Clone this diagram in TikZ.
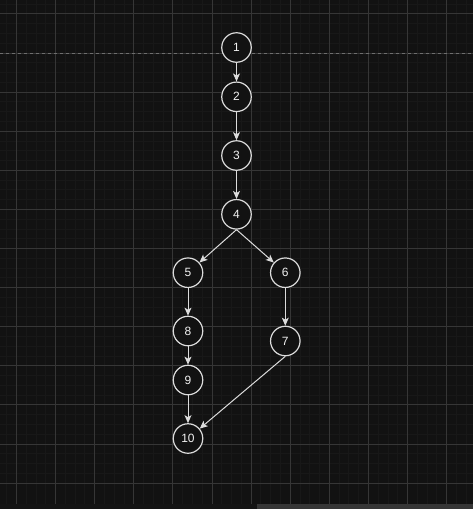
\documentclass[tikz,border=0pt]{standalone}
\usepackage{xcolor}
\usepackage{fontspec}
\newfontfamily\labfont{Liberation Sans}
\usepackage{tikz}
\usetikzlibrary{calc,arrows.meta}

\definecolor{bgcol}{HTML}{121212}
\definecolor{gridmajor}{HTML}{363636}
\definecolor{gridminor}{HTML}{181818}
\definecolor{fgcol}{HTML}{DCDCDC}
\definecolor{pagecol}{HTML}{6E6E6E}

\tikzset{
    vtx/.style={circle, draw=fgcol, fill=bgcol, line width=1.2pt, minimum size=29.5pt,
        inner sep=0pt, text=white!95!black, font=\labfont\fontsize{12}{14}\selectfont},
    edge/.style={draw=fgcol, line width=1pt, -{Stealth[length=8pt,width=7pt,inset=2pt]}},
    minorline/.style={gridminor, line width=0.7pt},
    majorline/.style={gridmajor, line width=0.8pt}
}

\begin{document}
\begin{tikzpicture}[x=1pt,y=-1pt]
        \useasboundingbox (0,0) rectangle (473,509);
        \fill[bgcol] (0,0) rectangle (473,509);
        % background grid, minor lines every quarter step
        \def\gx{16.4}
        \def\gy{13.8}
        \def\gstep{39.1}
        \foreach \i in {-2,...,48} {
            \draw[minorline] ({\gx+\i*\gstep/4},0) -- ({\gx+\i*\gstep/4},504);
            \draw[minorline] (0,{\gy+\i*\gstep/4}) -- (473,{\gy+\i*\gstep/4});
        }
        % major lines
        \foreach \i in {0,...,11} {
            \draw[majorline] ({\gx+\i*\gstep},0) -- ({\gx+\i*\gstep},504);
        }
        \foreach \i in {0,...,12} {
            \draw[majorline] (0,{\gy+\i*\gstep}) -- (473,{\gy+\i*\gstep});
        }
        % page break line
        \draw[pagecol, line width=0.9pt, dash pattern=on 3pt off 3pt] (0,53) -- (473,53);
        % bottom strip
        \fill[black!92!white] (0,504) rectangle (473,509);
        \fill[gridmajor] (257,504) rectangle (473,509);
        % nodes at their positions
        \foreach \n/\x/\y in {1/236.5/47.5, 2/236.5/96.8, 3/236.5/155.5, 4/236.5/214.3,
                              5/188/272.7, 6/285.3/272.7, 8/188/331, 7/285.3/341,
                              9/188/380, 10/188/438.5} {
            \node[vtx] (n\n) at (\x,\y) {\n};
        }
        % straight edges
        \foreach \a/\b in {1/2, 2/3, 3/4, 5/8, 8/9, 9/10, 6/7} {
            \draw[edge] (n\a) -- (n\b);
        }
        % edges leaving from the bottom point
        \draw[edge] (n4.south) -- (n5);
        \draw[edge] (n4.south) -- (n6);
        \draw[edge] (n7.south) -- (n10);
    \end{tikzpicture}
\end{document}
